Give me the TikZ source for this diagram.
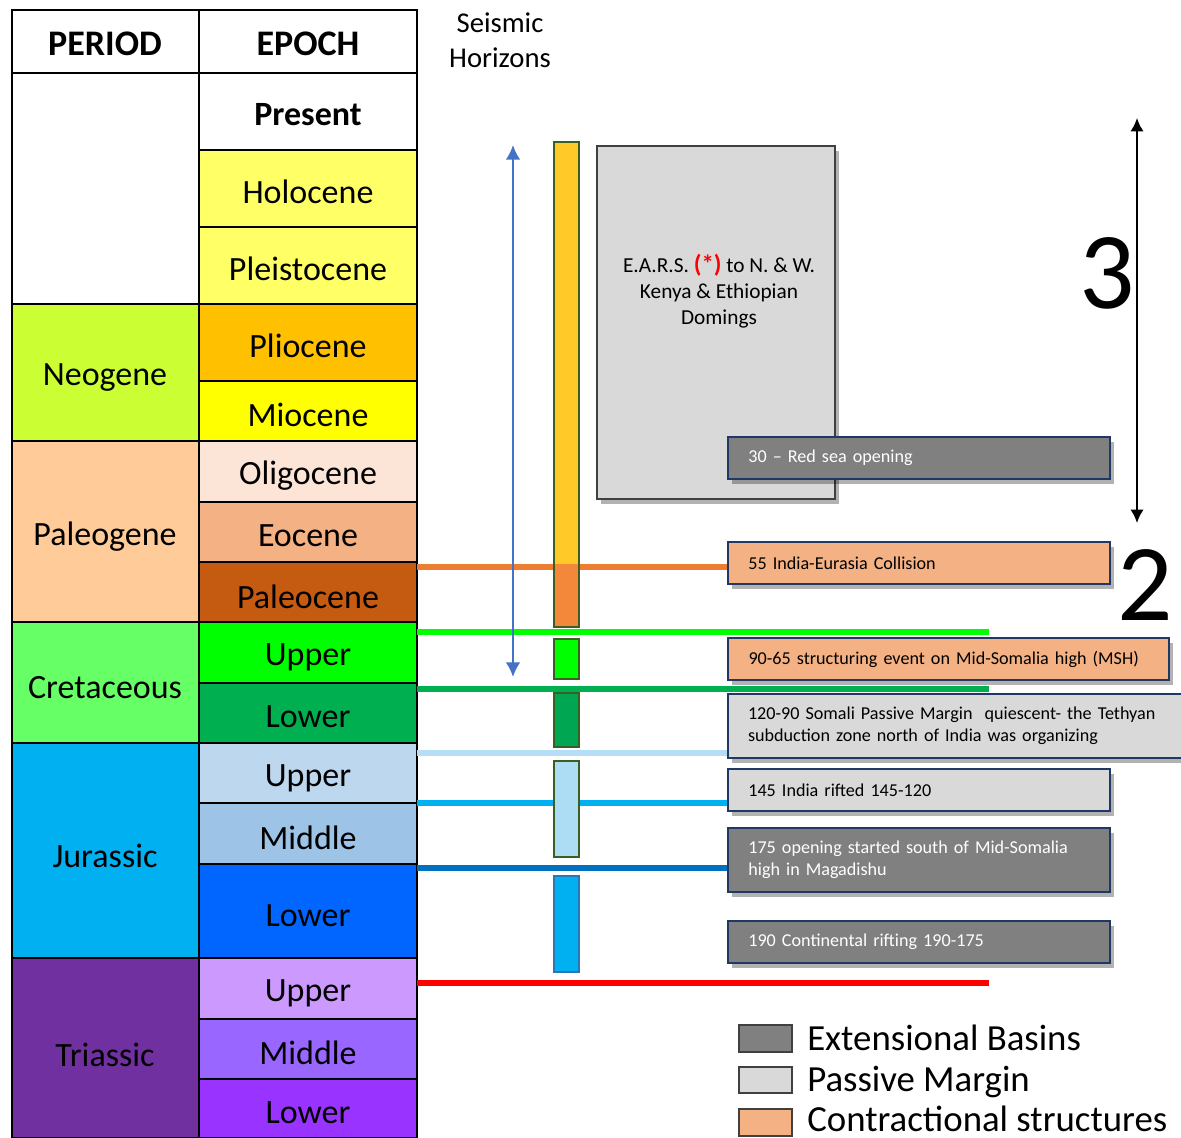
\documentclass[tikz,border=0pt]{standalone}
\usepackage{fontspec}
\setmainfont{Carlito}
\usepackage{xcolor}
\usetikzlibrary{arrows.meta,shadows,positioning}

\definecolor{holo}{HTML}{FFFF66}
\definecolor{plio}{HTML}{FFC000}
\definecolor{mio}{HTML}{FFFF00}
\definecolor{oligo}{HTML}{FCE4D6}
\definecolor{eoc}{HTML}{F4B183}
\definecolor{paleoc}{HTML}{C55A11}
\definecolor{creU}{HTML}{00FF00}
\definecolor{creL}{HTML}{00B050}
\definecolor{jurU}{HTML}{BDD7EE}
\definecolor{jurM}{HTML}{9DC3E6}
\definecolor{jurL}{HTML}{0066FF}
\definecolor{triU}{HTML}{CC99FF}
\definecolor{triM}{HTML}{9966FF}
\definecolor{triL}{HTML}{9933FF}
\definecolor{neog}{HTML}{CCFF33}
\definecolor{paleog}{HTML}{FFCC99}
\definecolor{creta}{HTML}{66FF66}
\definecolor{jura}{HTML}{00B0F0}
\definecolor{trias}{HTML}{7030A0}
\definecolor{baryel}{HTML}{FFCA28}
\definecolor{barora}{HTML}{F4883A}
\definecolor{bargrn}{HTML}{00A651}
\definecolor{barlb}{HTML}{ADDCF5}
\definecolor{barrim}{HTML}{3B5E23}
\definecolor{barbrim}{HTML}{2E75B6}
\definecolor{hzora}{HTML}{ED7D31}
\definecolor{hzlb}{HTML}{B4DEF5}
\definecolor{hzdb}{HTML}{0070C0}
\definecolor{evrim}{HTML}{1F3864}
\definecolor{extgray}{HTML}{808080}
\definecolor{pasgray}{HTML}{D9D9D9}
\definecolor{contr}{HTML}{F4B183}
\definecolor{arrblue}{HTML}{4472C4}

\tikzset{
    cell/.style={draw=black, line width=0.8pt},
    tabtxt/.style={font=\fontsize{25.5}{30}\selectfont},
    headtxt/.style={font=\fontsize{27}{30}\selectfont\bfseries},
    bar/.style={draw=barrim, line width=1.6pt},
    horizon/.style={line width=5.2pt},
    event/.style={draw=evrim, line width=1.5pt, anchor=north west, align=left,
        inner xsep=15pt, inner ysep=2pt, text width=256pt, minimum width=286.5pt,
        font=\fontsize{13.6}{16.5}\selectfont,
        drop shadow={shadow xshift=3pt, shadow yshift=-4pt, opacity=0.3, fill=black}},
    legbox/.style={draw=black!75, line width=2pt},
    legtxt/.style={anchor=base west, inner sep=0pt, font=\fontsize{27.6}{32}\selectfont}
}

\begin{document}
\begin{tikzpicture}[x=0.75pt,y=-0.75pt]
\useasboundingbox (0,0) rectangle (1181,1138);

% header
\draw[cell] (12,10) rectangle (199,73);
\draw[cell] (199,10) rectangle (417,73);
\node[headtxt] (period) at (105,44) {PERIOD};
\node[headtxt] (epoch) at (308,44) {EPOCH};
\node[font=\fontsize{21.5}{26}\selectfont, align=center] (seismic) at (500,40) {Seismic\\Horizons};

% periods
\draw[cell, fill=white] (12,73) rectangle (199,304);
\draw[cell, fill=neog] (12,304) rectangle (199,441);
\draw[cell, fill=paleog] (12,441) rectangle (199,622);
\draw[cell, fill=creta] (12,622) rectangle (199,743);
\draw[cell, fill=jura] (12,743) rectangle (199,958);
\draw[cell, fill=trias] (12,958) rectangle (199,1138);
\node[tabtxt] (neogene) at (105,378) {Neogene};
\node[tabtxt] (paleogene) at (105,537) {Paleogene};
\node[tabtxt] (cretaceous) at (105,688) {Cretaceous};
\node[tabtxt] (jurassic) at (105,856) {Jurassic};
\node[tabtxt] (triassic) at (105,1055) {Triassic};

% epochs
\draw[cell, fill=white] (199,73) rectangle (417,150);
\draw[cell, fill=holo] (199,150) rectangle (417,227);
\draw[cell, fill=holo] (199,227) rectangle (417,304);
\draw[cell, fill=plio] (199,304) rectangle (417,381);
\draw[cell, fill=mio] (199,381) rectangle (417,441);
\draw[cell, fill=oligo] (199,441) rectangle (417,502);
\draw[cell, fill=eoc] (199,502) rectangle (417,562);
\draw[cell, fill=paleoc] (199,562) rectangle (417,622);
\draw[cell, fill=creU] (199,622) rectangle (417,683);
\draw[cell, fill=creL] (199,683) rectangle (417,743);
\draw[cell, fill=jurU] (199,743) rectangle (417,803);
\draw[cell, fill=jurM] (199,803) rectangle (417,864);
\draw[cell, fill=jurL] (199,864) rectangle (417,958);
\draw[cell, fill=triU] (199,958) rectangle (417,1019);
\draw[cell, fill=triM] (199,1019) rectangle (417,1079);
\draw[cell, fill=triL] (199,1079) rectangle (417,1138);
\node[tabtxt, font=\fontsize{25.5}{30}\selectfont\bfseries] (present) at (308,115) {Present};
\node[tabtxt] (holocene) at (308,192) {Holocene};
\node[tabtxt] (pleistocene) at (308,269) {Pleistocene};
\node[tabtxt] (pliocene) at (308,346) {Pliocene};
\node[tabtxt] (miocene) at (308,415) {Miocene};
\node[tabtxt] (oligocene) at (308,476) {Oligocene};
\node[tabtxt] (eocene) at (308,536) {Eocene};
\node[tabtxt] (paleocene) at (308,597) {Paleocene};
\node[tabtxt] (creUpper) at (308,657) {Upper};
\node[tabtxt] (creLower) at (308,717) {Lower};
\node[tabtxt] (jurUpper) at (308,778) {Upper};
\node[tabtxt] (jurMiddle) at (308,838) {Middle};
\node[tabtxt] (jurLower) at (308,916) {Lower};
\node[tabtxt] (triUpper) at (308,993) {Upper};
\node[tabtxt] (triMiddle) at (308,1053) {Middle};
\node[tabtxt] (triLower) at (308,1113) {Lower};

% seismic horizons
\coordinate (hzA) at (417,567);
\coordinate (hzB) at (417,632);
\coordinate (hzC) at (417,689);
\coordinate (hzD) at (417,753);
\coordinate (hzE) at (417,803);
\coordinate (hzF) at (417,868);
\coordinate (hzG) at (417,983);
\draw[horizon, hzora] (hzA) -- (727,567);
\draw[horizon, creU] (hzB) -- (989,632);
\draw[horizon, creL] (hzC) -- (989,689);
\draw[horizon, hzlb] (hzD) -- (727,753);
\draw[horizon, jura] (hzE) -- (727,803);
\draw[horizon, hzdb] (hzF) -- (727,868);
\draw[horizon, red] (hzG) -- (989,983);

% bars
\fill[baryel] (554,142) rectangle (579,564);
\fill[barora] (554,564) rectangle (579,627);
\draw[bar] (554,142) rectangle (579,627);
\draw[bar, fill=creU] (554,639) rectangle (579,679);
\draw[bar, fill=bargrn] (554,693) rectangle (579,747);
\draw[bar, fill=barlb] (554,761) rectangle (579,857);
\draw[bar, draw=barbrim, fill=jura] (554,876) rectangle (579,972);

% arrows
\coordinate (blueTop) at (513,145);
\coordinate (blueBot) at (513,677);
\draw[arrblue, line width=1.6pt, {Latex[length=11pt,width=11pt]}-{Latex[length=11pt,width=11pt]}] (blueTop) -- (blueBot);
\coordinate (blackTop) at (1137,118);
\coordinate (blackBot) at (1137,523);
\draw[black, line width=1.6pt, {Latex[length=10pt,width=10pt]}-{Latex[length=10pt,width=10pt]}] (blackTop) -- (blackBot);
\node[font=\fontsize{82}{90}\selectfont] (three) at (1107,273) {3};
\node[font=\fontsize{82}{90}\selectfont] (two) at (1145,585) {2};

% events
\node[draw=black!75, line width=1.2pt, fill=pasgray, anchor=north west, minimum width=178.5pt, minimum height=264.75pt,
    drop shadow={shadow xshift=3pt, shadow yshift=-4pt, opacity=0.3, fill=black}] (ears) at (596,145) {};
\node[align=center, font=\fontsize{16}{19.5}\selectfont] (earstext) at (719,291)
    {E.A.R.S. \textcolor{red}{\fontsize{18.5}{19.5}\selectfont\textbf{(*)}} to N. \& W.\\Kenya \& Ethiopian\\Domings};
\node[event, fill=extgray, text=white, minimum height=31.5pt] (redsea) at (727,436) {30 -- Red sea opening};
\node[event, fill=contr, minimum height=31.5pt] (india) at (727,541) {55 India-Eurasia Collision};
\node[event, fill=contr, minimum height=31.5pt, text width=300pt, minimum width=330.75pt] (msh) at (727,637)
    {90-65 structuring event on Mid-Somalia high (MSH)};
\node[event, fill=pasgray, minimum height=48pt, text width=330pt, minimum width=343pt] (somali) at (727,693)
    {120-90 Somali Passive Margin~ quiescent- the Tethyan\\subduction zone north of India was organizing};
\node[event, fill=pasgray, minimum height=31.5pt] (rifted) at (727,768) {145 India rifted 145-120};
\node[event, fill=extgray, text=white, minimum height=48pt] (opening) at (727,827)
    {175 opening started south of Mid-Somalia\\high in Magadishu};
\node[event, fill=extgray, text=white, minimum height=31.5pt] (rifting) at (727,920) {190 Continental rifting 190-175};

% legend
\draw[legbox, fill=extgray] (739,1025) rectangle (792,1052);
\draw[legbox, fill=pasgray] (739,1067) rectangle (792,1093);
\draw[legbox, fill=contr] (739,1109) rectangle (792,1136);
\node[legtxt] (legExt) at (807,1050) {Extensional Basins};
\node[legtxt] (legPas) at (807,1091) {Passive Margin};
\node[legtxt] (legCon) at (807,1131) {Contractional structures};
\end{tikzpicture}
\end{document}
